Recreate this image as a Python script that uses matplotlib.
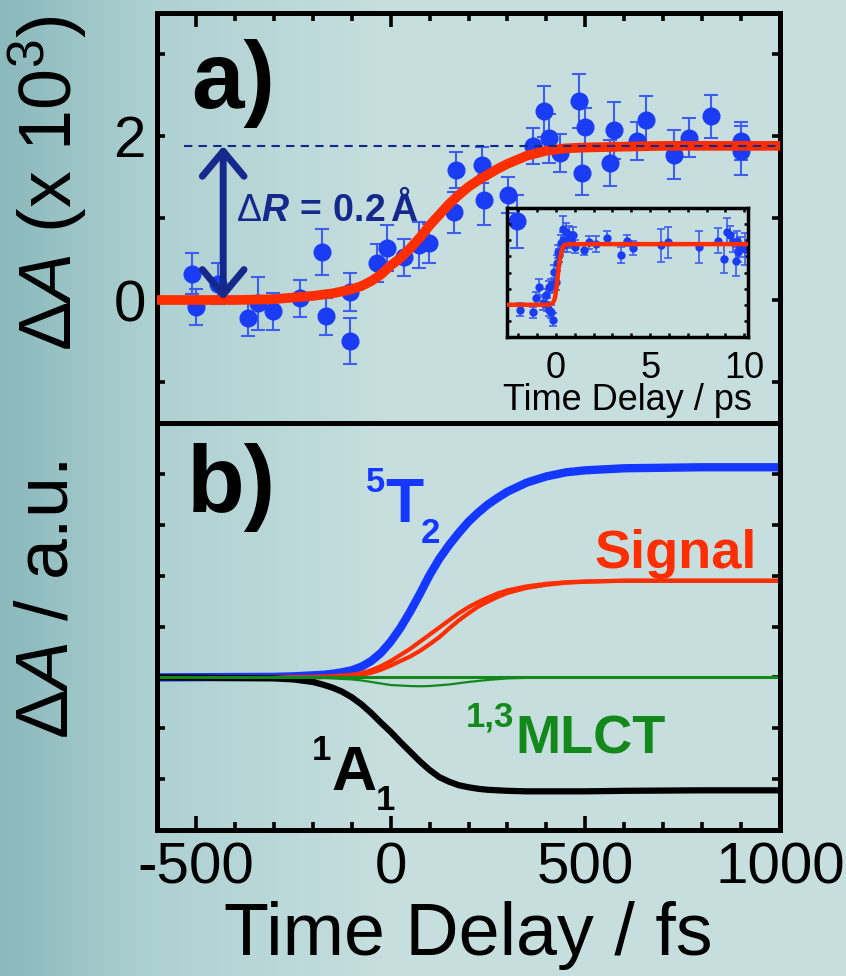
import numpy as np
import matplotlib
matplotlib.use('Agg')
import matplotlib.pyplot as plt
from matplotlib.ticker import MultipleLocator, FixedLocator
from matplotlib.colors import LinearSegmentedColormap

plt.rcParams['font.family'] = ['Liberation Sans', 'DejaVu Sans']
plt.rcParams['mathtext.fontset'] = 'custom'
plt.rcParams['mathtext.rm'] = 'Liberation Sans'
plt.rcParams['mathtext.it'] = 'Liberation Sans:italic'
plt.rcParams['mathtext.bf'] = 'Liberation Sans:bold'
plt.rcParams['mathtext.sf'] = 'Liberation Sans:bold:italic'
plt.rcParams['axes.unicode_minus'] = False

#----- panel a: measured points (time / fs, dA x 1e3, error) -----
t_a = [-509, -500, -444, -367, -341, -301, -233, -175, -166, -104,
       -104, -34, -9, 34, 72, 98,
       163, 167, 234, 240, 301, 324, 365, 395, 407, 434,
       483, 492, 500, 563, 574, 632, 656,
       729, 767, 824, 899, 899]
dA_a = [0.32, -0.08, 0.20, -0.22, -0.04, -0.14, 0.02, 0.58, -0.20, 0.10,
        -0.50, 0.45, 0.63, 0.52, 0.67, 0.69,
        1.07, 1.58, 1.65, 1.22, 1.28, 0.96, 1.88, 2.30, 1.97, 1.79,
        2.43, 1.55, 2.11, 1.67, 2.07, 1.94, 2.19,
        1.77, 1.98, 2.24, 1.94, 1.82]
err_a = [0.25, 0.22, 0.25, 0.22, 0.32, 0.23, 0.23, 0.28, 0.23, 0.23,
         0.28, 0.23, 0.28, 0.23, 0.28, 0.24,
         0.25, 0.22, 0.22, 0.30, 0.22, 0.32, 0.22, 0.31, 0.30, 0.23,
         0.33, 0.27, 0.23, 0.28, 0.35, 0.23, 0.30,
         0.30, 0.24, 0.26, 0.23, 0.30]

# fit curve of panel a
fit_t = [-600, -400, -300, -250, -200, -150, -100, -75, -50, -25, 0, 25, 50, 75,
         100, 125, 150, 175, 200, 225, 250, 275, 300, 350, 400, 450, 500, 600, 700, 1000]
fit_y = [0, 0, 0.01, 0.03, 0.05, 0.08, 0.13, 0.17, 0.23, 0.31, 0.42, 0.51, 0.63, 0.76,
         0.91, 1.04, 1.17, 1.28, 1.38, 1.46, 1.53, 1.60, 1.66, 1.76, 1.82, 1.85, 1.86, 1.87, 1.88, 1.88]
plateau = 1.88
arrow_t = -430
dash_start = -530

#----- inset: long scan (time / ps) -----
in_t = [-1.91, -1.24, -1.06, -0.89, -0.71, -0.53, -0.50, -0.39, -0.35, -0.27,
        -0.27, -0.18, -0.10, -0.09, 0.0, 0.05, 0.09, 0.18, 0.25, 0.35,
        0.40, 0.44, 0.53, 0.60, 0.71, 0.80, 0.88, 1.0, 1.47, 1.77,
        2.13, 2.69, 3.46, 3.78, 4.11, 5.59, 5.94, 7.59, 8.60, 8.95,
        9.07, 9.26, 9.39, 9.54, 9.61, 9.66, 9.79, 10.02]
in_y = [-0.16, -0.23, 0.20, 0.56, 0.05, 0.30, 0.00, -0.16, 0.55, 0.61,
        -0.21, -0.47, 0.60, 1.02, 0.70, 1.30, 1.64, 1.53, 1.90, 2.35,
        2.00, 1.84, 2.25, 1.90, 2.15, 2.00, 2.15, 1.80, 1.69, 1.94,
        1.89, 2.07, 1.53, 1.99, 1.76, 1.84, 1.94, 1.79, 1.99, 1.43,
        2.27, 2.15, 1.94, 1.35, 1.99, 1.64, 1.79, 1.72]
in_err = [0.20, 0.17, 0.20, 0.25, 0.20, 0.20, 0.20, 0.20, 0.20, 0.20,
          0.20, 0.20, 0.20, 0.20, 0.25, 0.25, 0.20, 0.20, 0.25, 0.40,
          0.25, 0.20, 0.30, 0.25, 0.30, 0.25, 0.25, 0.20, 0.15, 0.20,
          0.25, 0.22, 0.25, 0.18, 0.23, 0.50, 0.48, 0.50, 0.40, 0.45,
          0.43, 0.30, 0.30, 0.45, 0.30, 0.30, 0.30, 0.50]
in_fit_t = [-2.6] + [t / 1000 for t in fit_t] + [10.1]
in_fit_y = [0] + fit_y + [plateau]

#----- panel b: simulated populations -----
t_b = [-600, -300, -250, -200, -175, -150, -125, -100, -75, -50, -25, 0, 25, 50, 75,
       100, 125, 150, 175, 200, 225, 250, 275, 300, 350, 400, 450, 500, 600, 800, 1000]
T2 = [0, 0.01, 0.02, 0.04, 0.05, 0.07, 0.10, 0.14, 0.21, 0.32, 0.48, 0.70, 0.97, 1.29, 1.64,
      2.01, 2.33, 2.60, 2.84, 3.06, 3.24, 3.40, 3.53, 3.65, 3.83, 3.95, 4.03, 4.07, 4.11, 4.13, 4.13]
sig1 = [0, 0, 0.005, 0.01, 0.015, 0.025, 0.035, 0.05, 0.08, 0.14, 0.22, 0.32, 0.44, 0.56, 0.70,
        0.84, 0.98, 1.12, 1.26, 1.38, 1.48, 1.57, 1.65, 1.71, 1.79, 1.84, 1.87, 1.885, 1.9, 1.9, 1.9]
sig2 = [0, 0, 0, 0, 0.005, 0.01, 0.02, 0.03, 0.05, 0.09, 0.15, 0.23, 0.32, 0.41, 0.52,
        0.65, 0.79, 0.96, 1.12, 1.26, 1.39, 1.49, 1.58, 1.66, 1.76, 1.82, 1.86, 1.88, 1.9, 1.9, 1.9]
A1 = [0, -0.02, -0.04, -0.09, -0.14, -0.20, -0.28, -0.39, -0.53, -0.70, -0.89, -1.07, -1.27, -1.46, -1.65,
      -1.82, -1.96, -2.05, -2.12, -2.16, -2.19, -2.21, -2.22, -2.23, -2.24, -2.24, -2.24, -2.24, -2.23, -2.22, -2.22]
MLCT_dip = [0, 0, 0, -0.01, -0.01, -0.02, -0.03, -0.04, -0.06, -0.09, -0.12, -0.15, -0.16, -0.17, -0.175,
            -0.17, -0.155, -0.14, -0.115, -0.09, -0.07, -0.05, -0.035, -0.02, -0.01, 0, 0, 0, 0, 0, 0]
MLCT_flat = [0] * len(t_b)

#----- colours -----
blue = '#1a3cf5'
eblue = '#3d5ef0'
lblue = '#1438ff'
red = '#ff2e00'
navy = '#15298c'
green = '#12891a'

W, H = 846, 976
fig = plt.figure(figsize=(W / 100, H / 100), dpi=100)
fig.patch.set_facecolor('#c4dcdc')

# background
bg = fig.add_axes([0, 0, 1, 1], zorder=-10)
bg.axis('off')
cmap = LinearSegmentedColormap.from_list('bg', [(0, '#8ab8bb'), (0.17, '#add0d1'),
                                                (0.45, '#c6dede'), (1, '#c8dfdf')])
bg.imshow(np.linspace(0, 1, 256)[None, :], aspect='auto', cmap=cmap, extent=[0, 1, 0, 1])


def ftext(x, y, s, **kw):
    kw.setdefault('ha', 'left')
    kw.setdefault('va', 'baseline')
    fig.text(x / W, 1 - y / H, s, **kw)


ax_a = fig.add_axes([157 / W, 1 - 423 / H, 623 / W, 410 / H], facecolor='none')
ax_b = fig.add_axes([157 / W, 1 - 830 / H, 623 / W, 407 / H], facecolor='none')

for ax in (ax_a, ax_b):
    ax.set_xlim(-600, 1000)
    ax.xaxis.set_major_locator(MultipleLocator(500))
    ax.xaxis.set_minor_locator(MultipleLocator(100))
    ax.tick_params(which='both', direction='in', width=2.6, color='black')
    ax.tick_params(axis='x', which='major', length=10)
    ax.tick_params(axis='x', which='minor', length=6)
    ax.tick_params(axis='y', which='both', length=6, left=True, right=True)
    for s in ax.spines.values():
        s.set_linewidth(3.6)

#----- panel a -----
ax_a.errorbar(t_a, dA_a, yerr=err_a, fmt='o', ms=12, mfc=blue, mec=blue,
              ecolor=eblue, elinewidth=1.5, capsize=5, capthick=1.5, zorder=2)
ax_a.plot(fit_t, fit_y, color=red, lw=7, zorder=3)
ax_a.hlines(plateau, dash_start, 1000, colors=navy, linestyles=(0, (4, 3)), lw=1.5, zorder=4)
ax_a.annotate('', xy=(arrow_t, plateau), xytext=(arrow_t, 0),
              arrowprops=dict(arrowstyle='<->,head_length=0.9,head_width=0.75',
                              lw=5, color=navy, mutation_scale=20, shrinkA=0, shrinkB=0,
                              capstyle='round', joinstyle='round'),
              zorder=5)
ax_a.set_ylim(-1.5, 3.5)
ax_a.set_yticks([-1, 0, 1, 2, 3])
ax_a.set_yticklabels(['', '0', '', '2', ''])
ax_a.tick_params(axis='y', labelsize=42, pad=8)
ax_a.tick_params(axis='x', which='both', bottom=False, top=True, labelbottom=False)

#----- panel b -----
ax_b.plot(t_b, T2, color=lblue, lw=6, solid_capstyle='butt', solid_joinstyle='round')
ax_b.plot(t_b, sig1, color=red, lw=3, solid_capstyle='butt', solid_joinstyle='round')
ax_b.plot(t_b, sig2, color=red, lw=3, solid_capstyle='butt', solid_joinstyle='round')
ax_b.plot(t_b, A1, color='black', lw=4.5, solid_capstyle='butt', solid_joinstyle='round')
ax_b.plot(t_b, MLCT_dip, color=green, lw=1.6)
ax_b.plot(t_b, MLCT_flat, color=green, lw=2.2)
ax_b.set_ylim(-3, 5)
ax_b.yaxis.set_major_locator(MultipleLocator(1))
ax_b.tick_params(axis='y', labelleft=False)
ax_b.tick_params(axis='x', which='both', bottom=True, top=False, labelsize=42, pad=8)
ax_b.set_xlabel('Time Delay / fs', fontsize=53, labelpad=4)

#----- inset -----
ax_in = fig.add_axes([507 / W, 1 - 337 / H, 241 / W, 129 / H], facecolor='none')
ax_in.errorbar(in_t, in_y, yerr=in_err, fmt='o', ms=5, mfc=blue, mec=blue,
               ecolor=eblue, elinewidth=1.2, capsize=3, capthick=1.2, zorder=2)
ax_in.plot(in_fit_t, in_fit_y, color=red, lw=3.2, zorder=3)
ax_in.set_xlim(-2.6, 10.2)
ax_in.set_ylim(-1, 3)
ax_in.xaxis.set_major_locator(FixedLocator([0, 5, 10]))
ax_in.xaxis.set_minor_locator(MultipleLocator(1))
ax_in.yaxis.set_major_locator(MultipleLocator(0.5))
ax_in.tick_params(which='both', direction='in', top=True, right=True,
                  width=1.8, length=3, labelleft=False)
ax_in.tick_params(axis='x', labelsize=26, pad=10)
ax_in.set_xlabel('Time Delay / ps', fontsize=26, labelpad=-2)
for s in ax_in.spines.values():
    s.set_linewidth(2.5)

#----- texts -----
ftext(48, 183, r'Δ$\mathit{A}$ (x 10$^3$)', fontsize=53, rotation=90, ha='center', va='center')
ftext(48, 600, r'Δ$\mathit{A}$ / a.u.', fontsize=53, rotation=90, ha='center', va='center')
ftext(191, 108, 'a)', fontsize=68, fontweight='bold')
ftext(187, 512, 'b)', fontsize=68, fontweight='bold')
ftext(236, 221, r'$\Delta\mathsf{R}\,\mathbf{=\,0.2\,Å}$', fontsize=27, color=navy)

ftext(366, 492, '5', fontsize=25, fontweight='bold', color=lblue)
ftext(385, 522, 'T', fontsize=45, fontweight='bold', color=lblue)
ftext(421, 543, '2', fontsize=25, fontweight='bold', color=lblue)
ftext(594, 568, 'Signal', fontsize=39, fontweight='bold', color=red)
ftext(466, 727, '1,3', fontsize=25, fontweight='bold', color=green)
ftext(515, 753, 'MLCT', fontsize=39, fontweight='bold', color=green)
ftext(312, 760, '1', fontsize=25, fontweight='bold', color='black')
ftext(331, 790, 'A', fontsize=45, fontweight='bold', color='black')
ftext(376, 810, '1', fontsize=25, fontweight='bold', color='black')

fig.savefig('out.png', dpi=100, facecolor=fig.get_facecolor())
